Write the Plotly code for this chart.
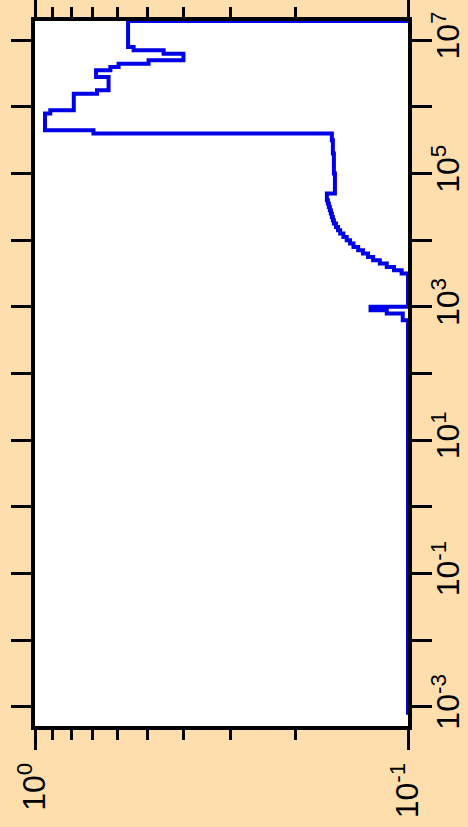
import plotly.graph_objects as go

# histogram bins: lower edge in log10(E) and the bin value
bin_log_e = [-3.12, 2.80, 2.90, 2.95, 3.00, 3.50, 3.55, 3.60, 3.65, 3.70,
             3.75, 3.80, 3.85, 3.90, 3.95, 4.00, 4.05, 4.10, 4.15, 4.20,
             4.25, 4.30, 4.35, 4.40, 4.45, 4.50, 4.55, 4.60, 4.65, 4.70,
             5.00, 5.30, 5.50, 5.60, 5.65, 5.90, 5.95, 6.20, 6.25, 6.45,
             6.55, 6.60, 6.65, 6.70, 6.80, 6.85, 6.90]
bin_value = [0.100, 0.1033, 0.114, 0.126, 0.100, 0.104, 0.109, 0.114, 0.119, 0.124,
             0.128, 0.132, 0.136, 0.140, 0.143, 0.146, 0.149, 0.152, 0.154, 0.156,
             0.158, 0.159, 0.160, 0.161, 0.162, 0.163, 0.164, 0.165, 0.165, 0.157,
             0.158, 0.159, 0.160, 0.697, 0.940, 0.910, 0.787, 0.682, 0.635, 0.686,
             0.628, 0.597, 0.496, 0.400, 0.452, 0.544, 0.563]
last_edge = 7.29
end_value = 0.100

e_exponents = list(range(-3, 8))
e_labels = ["10<sup>%d</sup>" % k if k % 2 else "" for k in e_exponents]
v_major = [1, 0.1]
v_labels = ["10<sup>0</sup>", "10<sup>-1</sup>"]
v_minor = [0.9, 0.8, 0.7, 0.6, 0.5, 0.4, 0.3, 0.2]

ys = [10 ** e for e in bin_log_e] + [10 ** last_edge]
xs = bin_value + [end_value]

fig = go.Figure()
fig.add_trace(go.Scatter(
    x=xs, y=ys, mode="lines",
    line=dict(color="rgb(0,0,230)", width=4, shape="vh"),
    cliponaxis=False,
))

fig.update_layout(
    width=468, height=827,
    margin=dict(l=35, r=60, t=21, b=101, autoexpand=False),
    paper_bgcolor="navajowhite",
    plot_bgcolor="white",
    showlegend=False,
    font=dict(family="Liberation Sans, Arial, sans-serif", size=32, color="black"),
)
fig.update_xaxes(
    type="log", range=[0, -1], automargin=False,
    tickmode="array", tickvals=v_major, ticktext=v_labels,
    ticks="outside", ticklen=20, tickwidth=2.5, tickcolor="black",
    minor=dict(tickmode="array", tickvals=v_minor, ticks="outside",
               ticklen=10, tickwidth=2.5, tickcolor="black", showgrid=False),
    tickangle=-90, showline=True, linewidth=4, linecolor="black",
    mirror="ticks", showgrid=False, zeroline=False, layer="below traces",
)
fig.update_yaxes(
    type="log", range=[-3.29, 7.29], side="right", automargin=False,
    tickmode="array", tickvals=[10 ** k for k in e_exponents], ticktext=e_labels,
    ticks="outside", ticklen=20, tickwidth=2.5, tickcolor="black",
    ticklabelstandoff=-11,
    tickangle=-90, showline=True, linewidth=4, linecolor="black",
    mirror="ticks", showgrid=False, zeroline=False, layer="below traces",
)

# page body margin would shift the figure
fig.write_html("out.html", config={"displayModeBar": False},
               post_script="document.body.style.margin='0';")
